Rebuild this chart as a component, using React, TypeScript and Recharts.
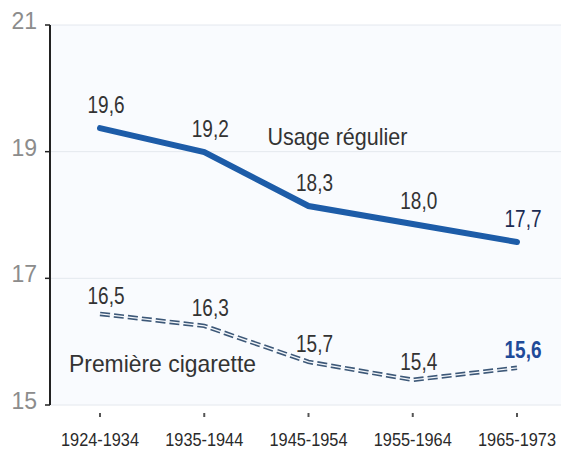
import React from 'react';
import {
  LineChart,
  Line,
  XAxis,
  YAxis,
  CartesianGrid,
  LabelList,
  ReferenceDot,
} from 'recharts';

const cohorts = ['1924-1934', '1935-1944', '1945-1954', '1955-1964', '1965-1973'];
const regularUse = [19.6, 19.2, 18.3, 18.0, 17.7];
const firstCigarette = [16.5, 16.3, 15.7, 15.4, 15.6];
const yTicks = [15, 17, 19, 21];

const data = cohorts.map((c, i) => ({
  cohort: c,
  regular: regularUse[i],
  first: firstCigarette[i],
}));

const SANS = '"Liberation Sans", Arial, sans-serif';

const fmt = (v: number) => v.toFixed(1).replace('.', ',');

const makeLabel = (dy: number, lastColor: string, lastBold: boolean) => (props: any) => {
  const { x, y, value, index } = props;
  const last = index === cohorts.length - 1;
  return (
    <text
      x={x + 6}
      y={y + dy}
      textAnchor="middle"
      fontFamily={SANS}
      fontSize={23}
      textLength={37}
      lengthAdjust="spacingAndGlyphs"
      fontWeight={last && lastBold ? 700 : 400}
      fill={last ? lastColor : '#333'}
    >
      {fmt(Number(value))}
    </text>
  );
};

const XTick = (props: any) => {
  const { x, y, payload } = props;
  return (
    <g>
      <line x1={x} x2={x} y1={y + 8} y2={y + 12} stroke="#555" strokeWidth={2} />
      <text
        x={x}
        y={y + 41}
        textAnchor="middle"
        fontFamily={SANS}
        fontSize={18}
        textLength={78}
        lengthAdjust="spacingAndGlyphs"
        fill="#2a2a2a"
      >
        {payload.value}
      </text>
    </g>
  );
};

const YTick = (props: any) => {
  const { x, y, payload } = props;
  return (
    <text x={x - 8} y={y + 4} textAnchor="end" fontFamily={SANS} fontSize={23} fill="#8c8c8c">
      {payload.value}
    </text>
  );
};

const seriesLabel = (text: string, dx: number, dy: number, len: number) => (props: any) => {
  const vb = props.viewBox || {};
  return (
    <text
      x={(vb.x || 0) + dx}
      y={(vb.y || 0) + dy}
      fontFamily={SANS}
      fontSize={24}
      textLength={len}
      lengthAdjust="spacingAndGlyphs"
      fill="#333"
    >
      {text}
    </text>
  );
};

export default function App() {
  return (
    <div style={{ position: 'absolute', left: 0, top: 0 }}>
      <LineChart width={561} height={452} data={data} margin={{ top: 25, right: 0, bottom: 7, left: 0 }}>
        <CartesianGrid yAxisId="ticks" vertical={false} stroke="#e4e8ee" fill="#f9fbfe" />
        <XAxis
          dataKey="cohort"
          padding={{ left: 50, right: 44 }}
          axisLine={false}
          tickLine={false}
          tickSize={0}
          tickMargin={0}
          height={40}
          tick={<XTick />}
          interval={0}
        />
        <YAxis
          yAxisId="ticks"
          type="number"
          domain={[15, 21]}
          ticks={yTicks}
          allowDataOverflow
          width={50}
          axisLine={{ stroke: '#222', strokeWidth: 2 }}
          tickLine={{ stroke: '#222', strokeWidth: 1.5 }}
          tickSize={5}
          tickMargin={0}
          tick={<YTick />}
        />
        <YAxis
          yAxisId="data"
          orientation="right"
          width={0}
          hide
          type="number"
          domain={[14.98, 21.32]}
          allowDataOverflow
        />
        <Line
          yAxisId="ticks"
          dataKey="regular"
          stroke="none"
          strokeWidth={0}
          dot={false}
          activeDot={false}
          legendType="none"
          isAnimationActive={false}
        />
        <Line
          yAxisId="data"
          dataKey="regular"
          type="linear"
          stroke="#1d5ca8"
          strokeWidth={6}
          strokeLinecap="round"
          dot={false}
          isAnimationActive={false}
        >
          <LabelList dataKey="regular" content={makeLabel(-15, '#1c2b52', false)} />
        </Line>
        <Line
          yAxisId="data"
          dataKey="first"
          type="linear"
          stroke="#3d5878"
          strokeWidth={4.5}
          strokeDasharray="10 4"
          dot={false}
          isAnimationActive={false}
        >
          <LabelList dataKey="first" content={makeLabel(-10, '#1f4b99', true)} />
        </Line>
        <Line
          yAxisId="data"
          dataKey="first"
          type="linear"
          stroke="#f4f7fb"
          strokeWidth={1.3}
          dot={false}
          isAnimationActive={false}
        />
        <ReferenceDot
          yAxisId="data"
          x="1945-1954"
          y={19.2}
          r={1}
          fill="none"
          stroke="none"
          label={seriesLabel('Usage régulier', -40, -6, 140)}
        />
        <ReferenceDot
          yAxisId="data"
          x="1924-1934"
          y={15.4}
          r={1}
          fill="none"
          stroke="none"
          label={seriesLabel('Première cigarette', -30, -7, 187)}
        />
      </LineChart>
    </div>
  );
}
